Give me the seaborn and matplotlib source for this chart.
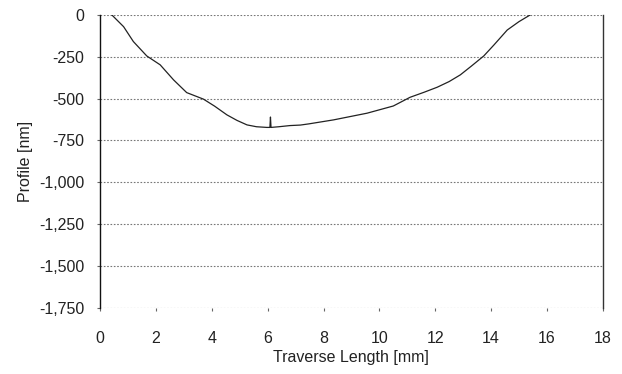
import matplotlib
matplotlib.use("Agg")
import matplotlib.pyplot as plt
import matplotlib.ticker as mticker
import pandas as pd
import seaborn as sns

# profile
traverse_mm = [0.42, 0.6, 0.84, 1.19, 1.67, 2.15, 2.63, 3.1, 3.7, 4.1, 4.54,
               4.9, 5.26, 5.6, 5.97, 6.08, 6.1, 6.12, 6.4, 6.8, 7.17, 7.47,
               8.36, 9.56, 10.5, 11.1, 11.6, 12.07, 12.5, 12.9, 13.3, 13.74,
               14.1, 14.58, 15.0, 15.4]
profile_nm = [0, -30, -70, -159, -245, -298, -388, -464, -503, -545, -597,
              -630, -657, -668, -672, -672, -610, -672, -668, -661, -658, -651,
              -627, -587, -544, -492, -462, -432, -398, -358, -305, -245,
              -180, -90, -40, 0]
y_ticks = [0, -250, -500, -750, -1000, -1250, -1500, -1750]
x_ticks = [0, 2, 4, 6, 8, 10, 12, 14, 16, 18]


def main():
    sns.set_style("white")
    plt.rcParams["font.family"] = ["Liberation Sans", "DejaVu Sans"]

    df = pd.DataFrame({"x": traverse_mm, "y": profile_nm})

    fig = plt.figure(figsize=(6.22, 3.74), dpi=100)
    ax = fig.add_axes([0.161, 0.177, 0.808, 0.783])

    for t in y_ticks:
        ax.axhline(t, color="#777777", lw=0.8, ls=(0, (1.5, 1.5)), zorder=0)

    sns.lineplot(data=df, x="x", y="y", ax=ax, color="#222222", lw=0.9,
                 sort=False, estimator=None)

    ax.set_xlim(0, 18)
    ax.set_ylim(-1750, 0)
    ax.set_xticks(x_ticks)
    ax.set_yticks(y_ticks)
    ax.yaxis.set_major_formatter(mticker.FuncFormatter(lambda v, p: f"{int(v):,}"))

    for side in ["top", "bottom"]:
        ax.spines[side].set_visible(False)
    ax.spines["left"].set_color("#111111")
    ax.spines["right"].set_color("#333333")
    ax.spines["left"].set_linewidth(1.0)
    ax.spines["right"].set_linewidth(1.0)

    ax.tick_params(axis="both", direction="out", length=2.5, width=0.8,
                   color="#666666", labelsize=11.5, labelcolor="#222222",
                   bottom=True, left=True)
    ax.tick_params(axis="x", pad=14)
    ax.tick_params(axis="y", pad=9)
    ax.set_xlabel("Traverse Length [mm]", fontsize=11.5, color="#222222", labelpad=3)
    ax.set_ylabel("Profile [nm]", fontsize=11.5, color="#222222", labelpad=4)

    fig.savefig("out.png", dpi=100)


if __name__ == "__main__":
    main()
